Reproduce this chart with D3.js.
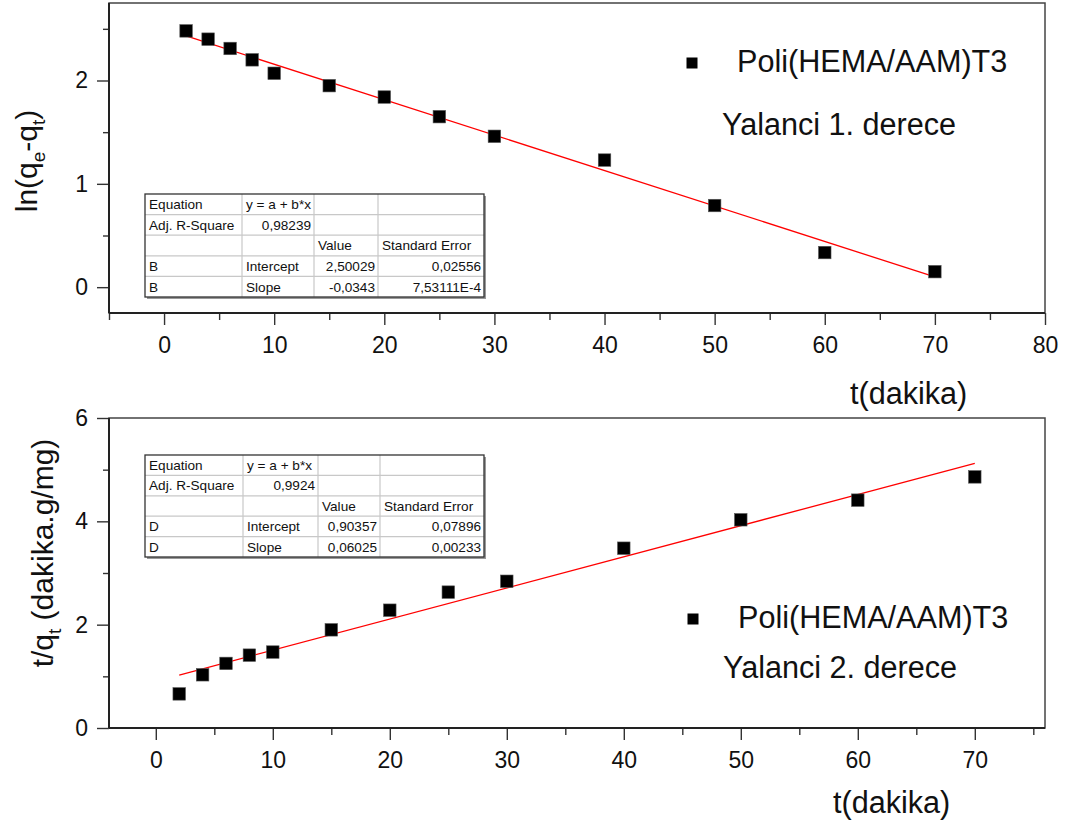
<!DOCTYPE html>
<html>
<head>
<meta charset="utf-8">
<script src="https://cdn.jsdelivr.net/npm/d3@7"></script>
<style>
  body { margin: 0; background: #fff; }
  svg { display: block; font-family: "Liberation Sans", Arial, sans-serif; }
</style>
</head>
<body>
<svg id="chart" width="1067" height="832"></svg>
<script>
// Sampling times (minutes)
const times = [2, 4, 6, 8, 10, 15, 20, 25, 30, 40, 50, 60, 70];
// Pseudo-first-order: ln(qe - qt)
const lnValues = [2.48, 2.40, 2.31, 2.20, 2.07, 1.95, 1.84, 1.65, 1.46, 1.23, 0.79, 0.335, 0.15];
// Pseudo-second-order: t/qt
const tqValues = [0.66, 1.03, 1.25, 1.41, 1.47, 1.90, 2.28, 2.63, 2.84, 3.48, 4.03, 4.41, 4.86];

// Linear fit parameters [intercept, slope]
const fitFirst = [2.50029, -0.0343];
const fitSecond = [0.90357, 0.06025];
const fitRange = [2, 70];

// Fit result tables
const tableFirst = [
  ["Equation", "y = a + b*x", "", ""],
  ["Adj. R-Square", "0,98239", "", ""],
  ["", "", "Value", "Standard Error"],
  ["B", "Intercept", "2,50029", "0,02556"],
  ["B", "Slope", "-0,0343", "7,53111E-4"]
];
const tableSecond = [
  ["Equation", "y = a + b*x", "", ""],
  ["Adj. R-Square", "0,9924", "", ""],
  ["", "", "Value", "Standard Error"],
  ["D", "Intercept", "0,90357", "0,07896"],
  ["D", "Slope", "0,06025", "0,00233"]
];

const seriesName = "Poli(HEMA/AAM)T3";
const modelFirst = "Yalanci 1. derece";
const modelSecond = "Yalanci 2. derece";
const xTitle = "t(dakika)";

const xTicksTop = [0, 10, 20, 30, 40, 50, 60, 70, 80];
const xMinorTop = [-5, 5, 15, 25, 35, 45, 55, 65, 75];
const yTicksTop = [0, 1, 2];
const yMinorTop = [0.5, 1.5, 2.5];
const xTicksBottom = [0, 10, 20, 30, 40, 50, 60, 70];
const xMinorBottom = [5, 15, 25, 35, 45, 55, 65, 75];
const yTicksBottom = [0, 2, 4, 6];
const yMinorBottom = [1, 3, 5];

const svg = d3.select("#chart");

function drawPanel(cfg) {
  const g = svg.append("g");
  const x = d3.scaleLinear().domain(cfg.xDomain).range([cfg.left, cfg.right]);
  const y = d3.scaleLinear().domain(cfg.yDomain).range([cfg.bottom, cfg.top]);

  // major / minor ticks via d3 axes
  const axB = g.append("g").attr("transform", `translate(0,${cfg.bottom})`);
  axB.call(d3.axisBottom(x).tickValues(cfg.xTicks).tickSize(12).tickPadding(12).tickFormat(d3.format("d")));
  const axBm = g.append("g").attr("transform", `translate(0,${cfg.bottom})`);
  axBm.call(d3.axisBottom(x).tickValues(cfg.xMinor).tickSize(7).tickFormat(""));
  const axL = g.append("g").attr("transform", `translate(${cfg.left},0)`);
  axL.call(d3.axisLeft(y).tickValues(cfg.yTicks).tickSize(12).tickPadding(9).tickFormat(d3.format("d")));
  const axLm = g.append("g").attr("transform", `translate(${cfg.left},0)`);
  axLm.call(d3.axisLeft(y).tickValues(cfg.yMinor).tickSize(6).tickFormat(""));

  g.selectAll(".domain").remove();
  g.selectAll(".tick line").attr("stroke", "#333").attr("stroke-width", 1.4);
  g.selectAll(".tick text").attr("font-size", 23).attr("fill", "#111")
    .attr("font-family", '"Liberation Sans", Arial, sans-serif');

  // frame
  g.append("rect")
    .attr("x", cfg.left).attr("y", cfg.top)
    .attr("width", cfg.right - cfg.left).attr("height", cfg.bottom - cfg.top)
    .attr("fill", "none").attr("stroke", "#444").attr("stroke-width", 1.5);
  g.append("line").attr("x1", cfg.left).attr("x2", cfg.right)
    .attr("y1", cfg.bottom).attr("y2", cfg.bottom)
    .attr("stroke", "#222").attr("stroke-width", 2);
  g.append("line").attr("x1", cfg.left).attr("x2", cfg.left)
    .attr("y1", cfg.top).attr("y2", cfg.bottom)
    .attr("stroke", "#222").attr("stroke-width", 2);

  // fit table
  drawTable(g, cfg.table, cfg.tableCols, cfg.tableTop, cfg.tableBottom);

  // fitted line
  const fx = fitRange.map(v => [v, cfg.fit[0] + cfg.fit[1] * v]);
  g.append("path").datum(fx)
    .attr("d", d3.line().x(d => x(d[0])).y(d => y(d[1])))
    .attr("fill", "none").attr("stroke", "#ff0000").attr("stroke-width", 1.3);

  // data markers
  const s = 12.5;
  g.selectAll("rect.pt").data(times.map((t, i) => [t, cfg.values[i]])).join("rect")
    .attr("class", "pt")
    .attr("x", d => x(d[0]) - s / 2).attr("y", d => y(d[1]) - s / 2)
    .attr("width", s).attr("height", s)
    .attr("fill", "#000").attr("stroke", "#555").attr("stroke-width", 0.6);

  // legend
  const ms = 11;
  g.append("rect")
    .attr("x", cfg.legend.mx - ms / 2).attr("y", cfg.legend.my - ms / 2)
    .attr("width", ms).attr("height", ms).attr("fill", "#000");
  g.append("text").attr("x", cfg.legend.tx).attr("y", cfg.legend.ty)
    .attr("font-size", 30.6).attr("fill", "#111").text(seriesName);
  g.append("text").attr("x", cfg.legend.nx).attr("y", cfg.legend.ny)
    .attr("font-size", 30.6).attr("fill", "#111").text(cfg.model);

  // x title
  g.append("text").attr("x", cfg.xTitle[0]).attr("y", cfg.xTitle[1])
    .attr("font-size", 30.6).attr("fill", "#111").text(xTitle);

  // y title
  const yt = g.append("text")
    .attr("transform", `translate(${cfg.yTitle[0]},${cfg.yTitle[1]}) rotate(-90)`)
    .attr("text-anchor", "middle").attr("font-size", 30).attr("fill", "#111");
  cfg.yTitleParts.forEach(p => {
    const ts = yt.append("tspan").text(p.t);
    if (p.sub) ts.attr("font-size", 19).attr("dy", 8);
    else if (p.after) ts.attr("dy", -8);
  });
}

function drawTable(g, rows, cols, top, bottom) {
  const n = rows.length;
  const rh = (bottom - top) / n;
  const left = cols[0], right = cols[cols.length - 1];
  const tg = g.append("g");
  // shadow
  tg.append("rect").attr("x", left + 2).attr("y", top + 2)
    .attr("width", right - left).attr("height", bottom - top)
    .attr("fill", "#999");
  tg.append("rect").attr("x", left).attr("y", top)
    .attr("width", right - left).attr("height", bottom - top)
    .attr("fill", "#fff");
  // inner grid
  for (let i = 1; i < n; i++) {
    tg.append("line").attr("x1", left).attr("x2", right)
      .attr("y1", top + i * rh).attr("y2", top + i * rh)
      .attr("stroke", "#c8c8c8").attr("stroke-width", 1.2);
  }
  for (let j = 1; j < cols.length - 1; j++) {
    tg.append("line").attr("x1", cols[j]).attr("x2", cols[j])
      .attr("y1", top).attr("y2", bottom)
      .attr("stroke", "#c8c8c8").attr("stroke-width", 1.2);
  }
  tg.append("rect").attr("x", left).attr("y", top)
    .attr("width", right - left).attr("height", bottom - top)
    .attr("fill", "none").attr("stroke", "#333").attr("stroke-width", 1.3);
  // cell text
  const numeric = /^-?[0-9][0-9,E\-]*$/;
  rows.forEach((row, i) => {
    row.forEach((cell, j) => {
      if (!cell) return;
      const isNum = numeric.test(cell);
      tg.append("text")
        .attr("x", isNum ? cols[j + 1] - 3 : cols[j] + 4)
        .attr("y", top + (i + 0.5) * rh + 4.8)
        .attr("text-anchor", isNum ? "end" : "start")
        .attr("font-size", 13.6).attr("fill", "#111").text(cell);
    });
  });
}

drawPanel({
  left: 109, right: 1045, top: 3, bottom: 313,
  xDomain: [-5, 80], yDomain: [-0.25, 2.75],
  xTicks: xTicksTop, xMinor: xMinorTop, yTicks: yTicksTop, yMinor: yMinorTop,
  values: lnValues, fit: fitFirst,
  table: tableFirst, tableCols: [145, 242, 314, 378, 484], tableTop: 194, tableBottom: 297,
  legend: { mx: 692, my: 63, tx: 737, ty: 72, nx: 722, ny: 135 },
  model: modelFirst,
  xTitle: [850, 404],
  yTitle: [37, 161],
  yTitleParts: [{ t: "ln(q" }, { t: "e", sub: true }, { t: "-q", after: true }, { t: "t", sub: true }, { t: ")", after: true }]
});

drawPanel({
  left: 109, right: 1045, top: 418, bottom: 728,
  xDomain: [-4, 76], yDomain: [0, 6],
  xTicks: xTicksBottom, xMinor: xMinorBottom, yTicks: yTicksBottom, yMinor: yMinorBottom,
  values: tqValues, fit: fitSecond,
  table: tableSecond, tableCols: [145, 243, 318, 380, 484], tableTop: 455, tableBottom: 557,
  legend: { mx: 693, my: 619, tx: 738, ty: 628, nx: 723, ny: 678 },
  model: modelSecond,
  xTitle: [833, 813],
  yTitle: [53, 553],
  yTitleParts: [{ t: "t/q" }, { t: "t", sub: true }, { t: " (dakika.g/mg)", after: true }]
});
</script>
</body>
</html>
